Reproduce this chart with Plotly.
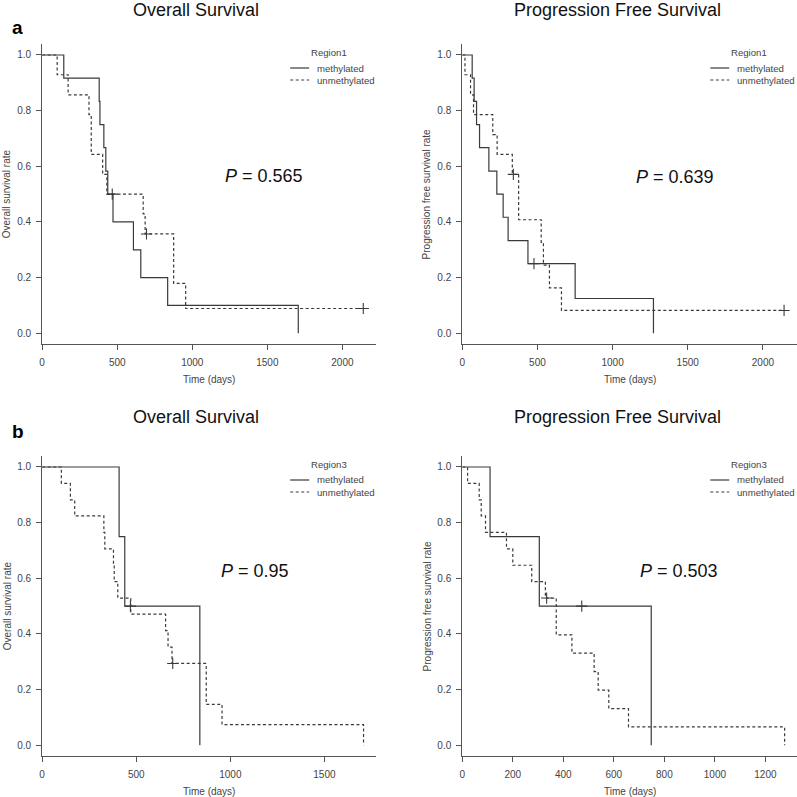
import plotly.graph_objects as go

W = H = 797

# ---------------- data ----------------
# Panel a, Overall Survival (Region1)
a_os_meth_t = [0, 144, 380, 385, 411, 424, 437, 472, 608, 657, 836, 1706]
a_os_meth_s = [1.0, 0.917, 0.833, 0.750, 0.667, 0.583, 0.500, 0.400, 0.300, 0.200, 0.100, 0.0]
a_os_meth_cens_t = [467]
a_os_meth_cens_s = [0.500]
a_os_unmeth_t = [0, 100, 173, 312, 327, 403, 431, 673, 686, 876, 956, 2139]
a_os_unmeth_s = [1.0, 0.929, 0.857, 0.786, 0.643, 0.571, 0.500, 0.429, 0.357, 0.179, 0.089, 0.089]
a_os_unmeth_cens_t = [695, 2139]
a_os_unmeth_cens_s = [0.357, 0.089]

# Panel a, Progression Free Survival (Region1)
a_pfs_meth_t = [0, 66, 79, 95, 115, 177, 230, 272, 305, 437, 751, 1272]
a_pfs_meth_s = [1.0, 0.917, 0.833, 0.750, 0.667, 0.583, 0.500, 0.417, 0.333, 0.250, 0.125, 0.0]
a_pfs_meth_cens_t = [477]
a_pfs_meth_cens_s = [0.250]
a_pfs_unmeth_t = [0, 18, 55, 75, 203, 232, 333, 375, 525, 540, 580, 660, 2141]
a_pfs_unmeth_s = [1.0, 0.929, 0.857, 0.786, 0.714, 0.643, 0.571, 0.408, 0.327, 0.245, 0.163, 0.082, 0.082]
a_pfs_unmeth_cens_t = [340, 2141]
a_pfs_unmeth_cens_s = [0.571, 0.082]

# Panel b, Overall Survival (Region3)
b_os_meth_t = [0, 409, 439, 838]
b_os_meth_s = [1.0, 0.75, 0.50, 0.0]
b_os_meth_cens_t = [469]
b_os_meth_cens_s = [0.50]
b_os_unmeth_t = [0, 102, 150, 173, 328, 333, 379, 383, 402, 471, 656, 669, 690, 872, 956, 1708]
b_os_unmeth_s = [1.0, 0.941, 0.882, 0.824, 0.765, 0.706, 0.647, 0.588, 0.529, 0.471, 0.412,
                 0.353, 0.294, 0.147, 0.074, 0.0]
b_os_unmeth_cens_t = [694]
b_os_unmeth_cens_s = [0.294]

# Panel b, Progression Free Survival (Region3)
b_pfs_meth_t = [0, 110, 305, 748]
b_pfs_meth_s = [1.0, 0.75, 0.50, 0.0]
b_pfs_meth_cens_t = [473]
b_pfs_meth_cens_s = [0.50]
b_pfs_unmeth_t = [0, 21, 67, 75, 92, 175, 200, 275, 329, 372, 434, 522, 538, 580, 658, 1276]
b_pfs_unmeth_s = [1.0, 0.941, 0.882, 0.824, 0.765, 0.706, 0.647, 0.588, 0.529, 0.397, 0.331,
                  0.265, 0.198, 0.132, 0.066, 0.0]
b_pfs_unmeth_cens_t = [334]
b_pfs_unmeth_cens_s = [0.529]

panel_titles = ["Overall Survival", "Progression Free Survival",
                "Overall Survival", "Progression Free Survival"]
y_titles = ["Overall survival rate", "Progression free survival rate",
            "Overall survival rate", "Progression free survival rate"]
legend_titles = ["Region1", "Region1", "Region3", "Region3"]
group_names = ["methylated", "unmethylated"]
p_values = ["0.565", "0.639", "0.95", "0.503"]
x_ticks = [[0, 500, 1000, 1500, 2000], [0, 500, 1000, 1500, 2000],
           [0, 500, 1000, 1500], [0, 200, 400, 600, 800, 1000, 1200]]
y_ticks = [0.0, 0.2, 0.4, 0.6, 0.8, 1.0]
panel_letters = ["a", "b"]

panels = [
    (a_os_meth_t, a_os_meth_s, a_os_meth_cens_t, a_os_meth_cens_s,
     a_os_unmeth_t, a_os_unmeth_s, a_os_unmeth_cens_t, a_os_unmeth_cens_s),
    (a_pfs_meth_t, a_pfs_meth_s, a_pfs_meth_cens_t, a_pfs_meth_cens_s,
     a_pfs_unmeth_t, a_pfs_unmeth_s, a_pfs_unmeth_cens_t, a_pfs_unmeth_cens_s),
    (b_os_meth_t, b_os_meth_s, b_os_meth_cens_t, b_os_meth_cens_s,
     b_os_unmeth_t, b_os_unmeth_s, b_os_unmeth_cens_t, b_os_unmeth_cens_s),
    (b_pfs_meth_t, b_pfs_meth_s, b_pfs_meth_cens_t, b_pfs_meth_cens_s,
     b_pfs_unmeth_t, b_pfs_unmeth_s, b_pfs_unmeth_cens_t, b_pfs_unmeth_cens_s),
]

# ---------------- layout geometry (pixels) ----------------
px_x = [(39.3, 374), (461, 797), (39.3, 374), (461, 797)]
px_y = [(44, 344), (44, 344), (456, 756), (456, 756)]
x_ranges = [[0, 2221], [0, 2227], [0, 1772], [0, 1325]]
y_range = [-0.0385, 1.0395]

def fx(p):
    return p / W

def fy(p):
    return 1 - p / H

FONT = "Liberation Sans, Arial, Helvetica, sans-serif"
CURVE = "#3a3a3a"
AXC = "#555555"
TXT = "#444444"

fig = go.Figure()
annotations = []
shapes = []

for i, (mt, ms, mct, mcs, ut, us, uct, ucs) in enumerate(panels):
    xa = "x" if i == 0 else f"x{i+1}"
    ya = "y" if i == 0 else f"y{i+1}"
    # curves
    fig.add_trace(go.Scatter(x=mt, y=ms, mode="lines", line=dict(shape="hv", color=CURVE, width=1.2),
                             xaxis=xa, yaxis=ya, showlegend=False, name=group_names[0]))
    fig.add_trace(go.Scatter(x=ut, y=us, mode="lines",
                             line=dict(shape="hv", color=CURVE, width=1.2, dash="3px,2.5px"),
                             xaxis=xa, yaxis=ya, showlegend=False, name=group_names[1]))
    # censor marks
    fig.add_trace(go.Scatter(x=mct + uct, y=mcs + ucs, mode="markers",
                             marker=dict(symbol="cross-thin", size=8, line=dict(color=CURVE, width=1.1)),
                             xaxis=xa, yaxis=ya, showlegend=False, hoverinfo="skip"))

    x0, x1 = px_x[i]
    y0, y1 = px_y[i]
    xkey = "xaxis" if i == 0 else f"xaxis{i+1}"
    ykey = "yaxis" if i == 0 else f"yaxis{i+1}"
    fig.layout[xkey] = dict(domain=[fx(x0), min(1.0, fx(x1))], range=x_ranges[i], anchor=ya,
                            tickvals=x_ticks[i], ticks="outside", ticklen=5, tickcolor=AXC,
                            showline=True, linecolor=AXC, linewidth=1, showgrid=False, zeroline=False,
                            tickfont=dict(family=FONT, size=10, color=TXT), ticklabelstandoff=4)
    fig.layout[ykey] = dict(domain=[fy(y1), fy(y0)], range=y_range, anchor=xa,
                            tickvals=y_ticks, tickformat=".1f", ticks="outside", ticklen=5, tickcolor=AXC,
                            showline=True, linecolor=AXC, linewidth=1, showgrid=False, zeroline=False,
                            tickfont=dict(family=FONT, size=10, color=TXT), ticklabelstandoff=3)

    # panel title
    title_y = 10 if i < 2 else 417
    title_x = (x0 + min(x1, 797)) / 2 - 12.5
    annotations.append(dict(text=panel_titles[i], x=fx(title_x), y=fy(title_y), xref="paper", yref="paper",
                            showarrow=False, xanchor="center", yanchor="middle",
                            font=dict(family=FONT, size=18, color="#111111")))
    # axis titles
    annotations.append(dict(text="Time (days)", x=fx((x0 + x1) / 2), y=fy(y1 + 35), xref="paper", yref="paper",
                            showarrow=False, xanchor="center", yanchor="middle",
                            font=dict(family=FONT, size=10, color=TXT)))
    annotations.append(dict(text=y_titles[i], x=fx(x0 - 35), y=fy((y0 + y1) / 2), xref="paper", yref="paper",
                            showarrow=False, xanchor="center", yanchor="middle", textangle=-90,
                            font=dict(family=FONT, size=10, color=TXT)))
    # legend (manual, R style)
    annotations.append(dict(text=legend_titles[i], x=fx(x0 + 287.5), y=fy(y0 + 8.5), xref="paper", yref="paper",
                            showarrow=False, xanchor="center", yanchor="middle",
                            font=dict(family=FONT, size=9.6, color=TXT)))
    for k, (nm, dash) in enumerate(zip(group_names, ["solid", "3px,2.5px"])):
        ly = y0 + 24 + k * 12
        shapes.append(dict(type="line", xref="paper", yref="paper",
                           x0=fx(x0 + 249), x1=fx(x0 + 268), y0=fy(ly), y1=fy(ly),
                           line=dict(color=CURVE, width=1.2, dash=dash)))
        annotations.append(dict(text=nm, x=fx(x0 + 274), y=fy(ly), xref="paper", yref="paper",
                                showarrow=False, xanchor="left", yanchor="middle",
                                font=dict(family=FONT, size=9.6, color=TXT)))

# P-values
p_pos = [(262, 176), (674.5, 177), (252.5, 571), (679, 571)]
for i, (px, py) in enumerate(p_pos):
    annotations.append(dict(text=f"<i>P</i> = {p_values[i]}", x=fx(px), y=fy(py), xref="paper", yref="paper",
                            showarrow=False, xanchor="center", yanchor="middle",
                            font=dict(family=FONT, size=18, color="#111111")))

# panel letters
for letter, (lx, ly) in zip(panel_letters, [(7, 27.5), (7, 431)]):
    annotations.append(dict(text=f"<b>{letter}</b>", x=fx(lx), y=fy(ly), xref="paper", yref="paper",
                            showarrow=False, xanchor="left", yanchor="middle",
                            font=dict(family=FONT, size=19, color="#000000")))

fig.update_layout(width=W, height=H, margin=dict(l=0, r=0, t=0, b=0),
                  paper_bgcolor="white", plot_bgcolor="white",
                  annotations=annotations, shapes=shapes, showlegend=False)

fig.write_html("out.html", config={"displayModeBar": False},
               post_script="document.body.style.margin='0';document.body.style.overflow='hidden';")
